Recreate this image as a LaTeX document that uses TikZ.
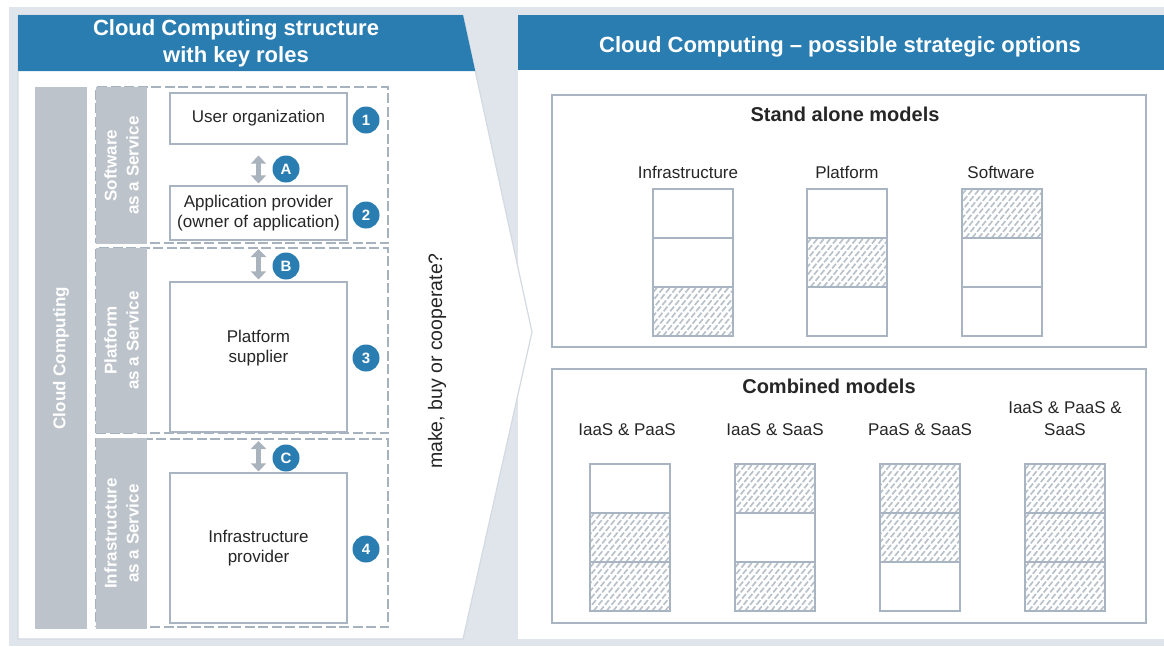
\documentclass[tikz,border=0pt]{standalone}
\usepackage{fontspec}
\setmainfont{Liberation Sans}
\usetikzlibrary{arrows.meta}

\definecolor{bggray}{HTML}{DFE5EB}
\definecolor{ccblue}{HTML}{2A7DB1}
\definecolor{bargray}{HTML}{BDC3CA}
\definecolor{dashgray}{HTML}{A7B2BF}
\definecolor{boxgray}{HTML}{A8B4C1}
\definecolor{arrowgray}{HTML}{A9B3BE}
\definecolor{hatchgray}{HTML}{B9C2CB}
\definecolor{edgegray}{HTML}{D3DAE2}
\definecolor{inkgray}{HTML}{262626}

% diagonal dashed hatching inside a rectangle (x1,y1)-(x2,y2)
\newcommand{\hatchrect}[4]{%
  \begin{scope}
    \clip (#1,#2) rectangle (#3,#4);
    \foreach \k in {-42,-35.5,...,86} {\draw[hatchline] (#1+\k,#4) -- (#1+\k+40,#2);}
  \end{scope}}

% a column of three service layers; flags mark the hatched (used) layers
\newcommand{\modelstack}[5]{%
  \foreach \i/\h in {0/#3,1/#4,2/#5} {%
    \ifnum\h=1 \hatchrect{#1}{#2+49*\i}{#1+80}{#2+49*\i+49}\fi
    \draw[cell] (#1,#2+49*\i) rectangle ++(80,49);
  }}

\begin{document}
\begin{tikzpicture}[x=1pt,y=-1pt,
  every node/.style={text=inkgray},
  rolebox/.style={draw=boxgray, line width=1.2pt, fill=white, align=center,
    inner sep=0pt, font=\fontsize{17}{20.5}\selectfont},
  roletext/.style={align=center, font=\fontsize{17}{20.5}\selectfont},
  numdot/.style={circle, fill=ccblue, text=white, minimum size=27pt, inner sep=0pt,
    font=\bfseries\fontsize{15}{15}\selectfont},
  dashbox/.style={draw=dashgray, line width=2pt, dash pattern=on 10pt off 3.5pt,
    inner sep=0pt},
  sidebar/.style={fill=bargray, text=white, rotate=90, align=center, inner sep=0pt,
    font=\bfseries\fontsize{17}{22}\selectfont},
  dblarrow/.style={draw=arrowgray, line width=5pt,
    {Triangle[width=15pt,length=8pt]}-{Triangle[width=15pt,length=8pt]}},
  headtext/.style={text=white, align=center, font=\bfseries\fontsize{22}{27}\selectfont},
  modelbox/.style={draw=boxgray, line width=1.2pt},
  cell/.style={draw=boxgray, line width=1.3pt},
  hatchline/.style={draw=hatchgray, line width=1.7pt, dash pattern=on 6pt off 2pt},
  modeltitle/.style={font=\bfseries\fontsize{20}{24}\selectfont},
  modellabel/.style={align=center, font=\fontsize{17}{22}\selectfont}
]
\useasboundingbox (0,0) rectangle (1164,646);

% backdrop and the two panels
\fill[white] (0,0) rectangle (1164,646);
\fill[bggray] (9,7) rectangle (1164,646);
\fill[white] (518,15) rectangle (1164,639);
\filldraw[fill=white, draw=edgegray, line width=1.2pt]
  (18,15) -- (463,15) -- (532,332) -- (463,639) -- (18,639) -- cycle;

% headers
\fill[ccblue] (18,15) -- (463,15) -- (475.2,71) -- (18,71) -- cycle;
\node[headtext] (lhead) at (236,43.5) {Cloud Computing structure\\with key roles};
\fill[ccblue] (518,15) rectangle (1164,70);
\node[headtext] (rhead) at (840,46.5) {Cloud Computing -- possible strategic options};

% service layers (dashed frames)
\node[dashbox, minimum width=292pt, minimum height=156pt] (saas) at (242,165) {};
\node[dashbox, minimum width=292pt, minimum height=185pt] (paas) at (242,340.5) {};
\node[dashbox, minimum width=292pt, minimum height=188pt] (iaas) at (242,533) {};

% side bars
\node[sidebar, minimum width=542pt, minimum height=52pt] (ccbar) at (61,358) {Cloud Computing};
\node[sidebar, minimum width=157pt, minimum height=51pt] (saasbar) at (121.5,165.5) {Software\\as a Service};
\node[sidebar, minimum width=185pt, minimum height=51pt] (paasbar) at (121.5,340.5) {Platform\\as a Service};
\node[sidebar, minimum width=191pt, minimum height=51pt] (iaasbar) at (121.5,533.5) {Infrastructure\\as a Service};

% roles
\node[rolebox, minimum width=177pt, minimum height=51pt] (user) at (258.5,118.5) {User organization};
\node[rolebox, minimum width=177pt, minimum height=54pt] (app) at (258.5,213) {Application provider\\(owner of application)};
\node[rolebox, minimum width=177pt, minimum height=150pt] (plat) at (258.5,357) {};
\node[roletext] (plattext) at (258.5,348) {Platform\\supplier};
\node[rolebox, minimum width=177pt, minimum height=150pt] (infra) at (258.5,548) {Infrastructure\\provider};

\node[numdot] (n1) at (366,120) {1};
\node[numdot] (n2) at (366,215) {2};
\node[numdot] (n3) at (366,358) {3};
\node[numdot] (n4) at (366,549) {4};

% interfaces between the roles
\draw[dblarrow] ([yshift=-11pt]user.south) -- ([yshift=2pt]app.north);
\draw[dblarrow] ([yshift=-2pt]plat.north |- paas.north) -- ([yshift=2pt]plat.north);
\draw[dblarrow] ([yshift=-3pt]infra.north |- iaas.north) -- ([yshift=1pt]infra.north);
\node[numdot] (ia) at (286,169) {A};
\node[numdot] (ib) at (286,266) {B};
\node[numdot] (ic) at (286,458) {C};

\node[rotate=90, font=\fontsize{19.5}{22}\selectfont] (question) at (437,361) {make, buy or cooperate?};

% stand alone models
\draw[modelbox] (552,95) rectangle (1146,347);
\node[modeltitle] (sat) at (845,114) {Stand alone models};
\node[modellabel] (lInf) at (688,172) {Infrastructure};
\node[modellabel] (lPla) at (847,172) {Platform};
\node[modellabel] (lSof) at (1001,172) {Software};
\modelstack{653}{189}{0}{0}{1}
\modelstack{807}{189}{0}{1}{0}
\modelstack{962}{189}{1}{0}{0}

% combined models
\draw[modelbox] (552,369) rectangle (1146,623);
\node[modeltitle] (cmt) at (829,386) {Combined models};
\node[modellabel] (lIP) at (627,430) {IaaS \& PaaS};
\node[modellabel] (lIS) at (775,430) {IaaS \& SaaS};
\node[modellabel] (lPS) at (920,430) {PaaS \& SaaS};
\node[modellabel] (lIPS) at (1065,419) {IaaS \& PaaS \&\\SaaS};
\modelstack{590}{464}{0}{1}{1}
\modelstack{735}{464}{1}{0}{1}
\modelstack{880}{464}{1}{1}{0}
\modelstack{1025}{464}{1}{1}{1}
\end{tikzpicture}
\end{document}
